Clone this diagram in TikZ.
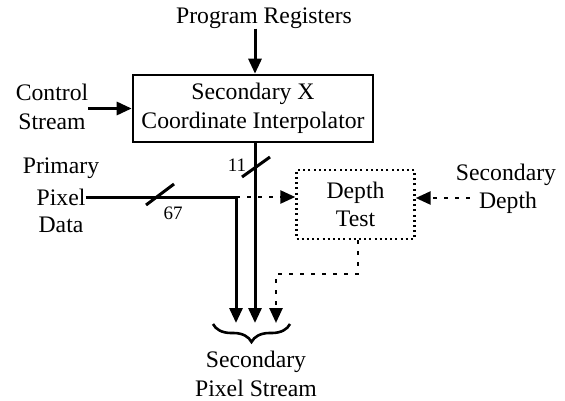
\documentclass[tikz,border=0pt]{standalone}
\usepackage{fontspec}
\setmainfont{Liberation Serif}
\usetikzlibrary{arrows.meta,decorations.pathreplacing}
\begin{document}
\begin{tikzpicture}[x=1pt,y=-1pt,
  txt/.style={font=\fontsize{23.7}{28.5}\selectfont, align=center, inner sep=0pt},
  small/.style={font=\fontsize{19}{22}\selectfont, inner sep=0pt},
  wire/.style={line width=3pt},
  tip/.style={-{Triangle[length=15pt,width=13pt]}},
  arr/.style={wire, tip},
  dotline/.style={line width=2.6pt, dash pattern=on 4pt off 7pt},
  dotarr/.style={dotline, tip},
  unit/.style={draw, line width=2.6pt, minimum width=240pt, minimum height=67pt, txt},
  testbox/.style={draw, line width=2.4pt, dash pattern=on 2pt off 3.2pt,
    minimum width=118pt, minimum height=69pt, txt},
  bracestyle/.style={line width=2.6pt, decorate,
    decoration={brace, mirror, amplitude=18pt}}
]
\useasboundingbox (0,0) rectangle (565,401);

% blocks
\node[unit] (interp) at (253,108.5) {Secondary X\\Coordinate Interpolator};
\node[testbox] (depth) at (355.5,204.5) {Depth\\Test};

% labels
\node[txt] (prog) at (264,18) {Program Registers};
\node[txt] (ctrl) at (52,107) {Control\\Stream};
\node[txt] (prim) at (61,168) {Primary};
\node[txt] (pixel) at (61,197) {Pixel};
\node[txt] (data) at (61,225) {Data};
\node[txt] (sec) at (506,175) {Secondary};
\node[txt] (sdep) at (508,203) {Depth};
\node[txt] (out) at (256,374) {Secondary\\Pixel Stream};
\node[small] (w11) at (237,165) {11};
\node[small] (w67) at (173,213) {67};

% bus points
\coordinate (split) at (236,197);
\coordinate (outL) at (236,323);
\coordinate (outM) at (255,323);
\coordinate (outR) at (276,323);
\coordinate (dbend) at (358,274);

% solid connectors
\draw[arr] (prog.south -| outM) -- (interp.north -| outM);
\draw[arr] (ctrl.east |- interp.west) -- (interp.west);
\draw[arr] (interp.south -| outM) -- (outM);
\draw[arr] (pixel.east) -- (split) -- (outL);

% bus width ticks
\draw[wire] (146,205) -- (174,184);
\draw[wire] (242,177) -- (270,157);

% dotted connectors
\draw[dotarr] (split) -- (depth.west |- split);
\draw[dotarr, shorten <=9pt] (sdep.west |- 0,198) -- (depth.east |- 0,198);
\draw[dotarr] (depth.south -| dbend) -- (dbend) -| (outR);

% grouping brace
\draw[bracestyle] (213,324) -- (290,324);
\end{tikzpicture}
\end{document}
